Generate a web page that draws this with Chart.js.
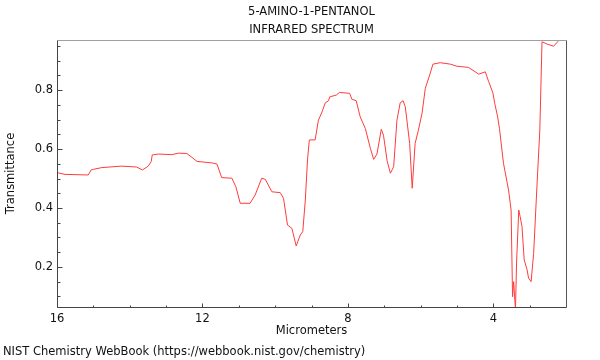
<!DOCTYPE html>
<html>
<head>
<meta charset="utf-8">
<script src="https://cdn.jsdelivr.net/npm/chart.js@4/dist/chart.umd.min.js"></script>
<style>
  html, body { margin: 0; padding: 0; background: #fff; }
</style>
</head>
<body>
<canvas id="irChart" width="600" height="360"></canvas>
<script>
// spectrum (micrometers, transmittance)
const wavelength = [
  16.0, 15.78, 15.14, 15.06, 15.0, 14.77, 14.22, 13.81, 13.65, 13.49,
  13.41, 13.38, 13.21, 12.84, 12.66, 12.43, 12.29, 12.15, 11.74, 11.6,
  11.47, 11.19, 11.08, 10.96, 10.69, 10.55, 10.37, 10.27, 10.09, 9.86,
  9.77, 9.66, 9.54, 9.42, 9.31, 9.24, 9.17, 9.11, 9.06, 8.9,
  8.81, 8.71, 8.62, 8.53, 8.5, 8.32, 8.23, 7.95, 7.89, 7.77,
  7.66, 7.52, 7.38, 7.29, 7.2, 7.08, 7.02, 6.92, 6.83, 6.74,
  6.65, 6.56, 6.48, 6.42, 6.3, 6.23, 6.15, 6.06, 5.96, 5.87,
  5.75, 5.66, 5.46, 5.18, 5.0, 4.68, 4.4, 4.22, 4.13, 4.01,
  3.96, 3.88, 3.83, 3.72, 3.58, 3.51, 3.47, 3.44, 3.39, 3.36,
  3.3, 3.26, 3.21, 3.15, 3.07, 3.03, 2.96, 2.89, 2.8, 2.72,
  2.66, 2.52, 2.34, 2.23, 2.2, 2.02
];
const transmittance = [
  0.52, 0.514, 0.512, 0.529, 0.531, 0.537, 0.542, 0.539, 0.529, 0.542,
  0.557, 0.58, 0.583, 0.581, 0.586, 0.585, 0.572, 0.558, 0.553, 0.549,
  0.503, 0.501, 0.472, 0.416, 0.416, 0.444, 0.501, 0.497, 0.455, 0.452,
  0.433, 0.342, 0.331, 0.271, 0.308, 0.32, 0.427, 0.563, 0.631, 0.631,
  0.698, 0.726, 0.757, 0.764, 0.777, 0.783, 0.792, 0.789, 0.769, 0.764,
  0.709, 0.67, 0.602, 0.565, 0.583, 0.667, 0.647, 0.56, 0.518, 0.54,
  0.698, 0.757, 0.764, 0.743, 0.619, 0.467, 0.619, 0.664, 0.721, 0.806,
  0.851, 0.888, 0.893, 0.888, 0.881, 0.877, 0.854, 0.862, 0.83, 0.79,
  0.755, 0.709, 0.67, 0.552, 0.461, 0.393, 0.099, 0.15, 0.055, 0.213,
  0.393, 0.37, 0.337, 0.224, 0.19, 0.162, 0.15, 0.246, 0.472, 0.664,
  0.964, 0.956, 0.949, 0.964, 0.969, 0.969
];

const xMajorTicks = [16, 12, 8, 4];
const xMinorTicks = [15, 14, 13, 11, 10, 9, 7, 6, 5, 3];
const yMajorTicks = [0.2, 0.4, 0.6, 0.8];
const yMinorTicks = [0.1, 0.15, 0.25, 0.3, 0.35, 0.45, 0.5, 0.55, 0.65, 0.7, 0.75, 0.85, 0.9, 0.95];

const titleLines = ['5-AMINO-1-PENTANOL', 'INFRARED SPECTRUM'];
const xTitle = 'Micrometers';
const yTitle = 'Transmittance';
const footer = 'NIST Chemistry WebBook (https://webbook.nist.gov/chemistry)';

const FONT = '"DejaVu Sans", sans-serif';
const FONT_SIZE = 11.5;

// frame, inward ticks and the text around the plot
const framePlugin = {
  id: 'frame',
  afterDraw(chart) {
    const ctx = chart.ctx;
    const a = chart.chartArea;
    const xs = chart.scales.x;
    const ys = chart.scales.y;
    const L = Math.round(a.left) + 0.5, R = Math.round(a.right) + 0.5;
    const T = Math.round(a.top) + 0.5, B = Math.round(a.bottom) + 0.5;
    ctx.save();
    ctx.lineWidth = 1;

    ctx.strokeStyle = '#a0a0a0';
    ctx.beginPath(); ctx.moveTo(L, T); ctx.lineTo(R, T); ctx.stroke();
    ctx.strokeStyle = '#555';
    ctx.beginPath(); ctx.moveTo(R, T); ctx.lineTo(R, B); ctx.stroke();
    ctx.strokeStyle = '#444';
    ctx.beginPath(); ctx.moveTo(L, T); ctx.lineTo(L, B); ctx.lineTo(R, B); ctx.stroke();

    ctx.strokeStyle = '#444';
    ctx.beginPath();
    xMajorTicks.forEach(v => {
      const px = Math.round(xs.getPixelForValue(v)) + 0.5;
      ctx.moveTo(px, B); ctx.lineTo(px, B - 4);
    });
    xMinorTicks.forEach(v => {
      const px = Math.round(xs.getPixelForValue(v)) + 0.5;
      ctx.moveTo(px, B); ctx.lineTo(px, B - 2);
    });
    yMajorTicks.forEach(v => {
      const py = Math.round(ys.getPixelForValue(v)) + 0.5;
      ctx.moveTo(L, py); ctx.lineTo(L + 5, py);
    });
    yMinorTicks.forEach(v => {
      const py = Math.round(ys.getPixelForValue(v)) + 0.5;
      ctx.moveTo(L, py); ctx.lineTo(L + 3, py);
    });
    ctx.stroke();

    ctx.fillStyle = '#111';
    ctx.font = FONT_SIZE + 'px ' + FONT;
    ctx.textAlign = 'center';
    ctx.textBaseline = 'middle';
    const cx = (a.left + a.right) / 2;
    ctx.fillText(titleLines[0], cx, 12);
    ctx.fillText(titleLines[1], cx, 30);
    ctx.fillText(xTitle, cx, 331);

    ctx.save();
    ctx.translate(11, (a.top + a.bottom) / 2);
    ctx.rotate(-Math.PI / 2);
    ctx.fillText(yTitle, 0, 0);
    ctx.restore();

    ctx.textAlign = 'left';
    ctx.fillText(footer, 3, 352);
    ctx.restore();
  }
};

new Chart(document.getElementById('irChart').getContext('2d'), {
  type: 'line',
  data: {
    datasets: [{
      data: wavelength.map((w, i) => ({ x: w, y: transmittance[i] })),
      borderColor: '#ff3b3b',
      borderWidth: 1,
      pointRadius: 0,
      tension: 0,
      fill: false
    }]
  },
  options: {
    responsive: false,
    animation: false,
    devicePixelRatio: 1,
    layout: { padding: { top: 40, right: 34, left: 0, bottom: 0 } },
    plugins: {
      legend: { display: false },
      tooltip: { enabled: false }
    },
    scales: {
      x: {
        type: 'linear',
        reverse: true,
        min: 2,
        max: 16,
        grid: { display: false, drawTicks: false },
        border: { display: false },
        afterBuildTicks: s => { s.ticks = xMajorTicks.map(v => ({ value: v })); },
        afterFit: s => { s.height = 53; },
        ticks: {
          autoSkip: false,
          maxRotation: 0,
          padding: 5,
          color: '#111',
          font: { family: FONT, size: FONT_SIZE }
        }
      },
      y: {
        min: 0.064,
        max: 0.97,
        grid: { display: false, drawTicks: false },
        border: { display: false },
        afterBuildTicks: s => { s.ticks = yMajorTicks.map(v => ({ value: v })); },
        afterFit: s => { s.width = 57; },
        ticks: {
          padding: 4,
          color: '#111',
          font: { family: FONT, size: FONT_SIZE },
          callback: v => v.toFixed(1)
        }
      }
    }
  },
  plugins: [framePlugin]
});
</script>
</body>
</html>
